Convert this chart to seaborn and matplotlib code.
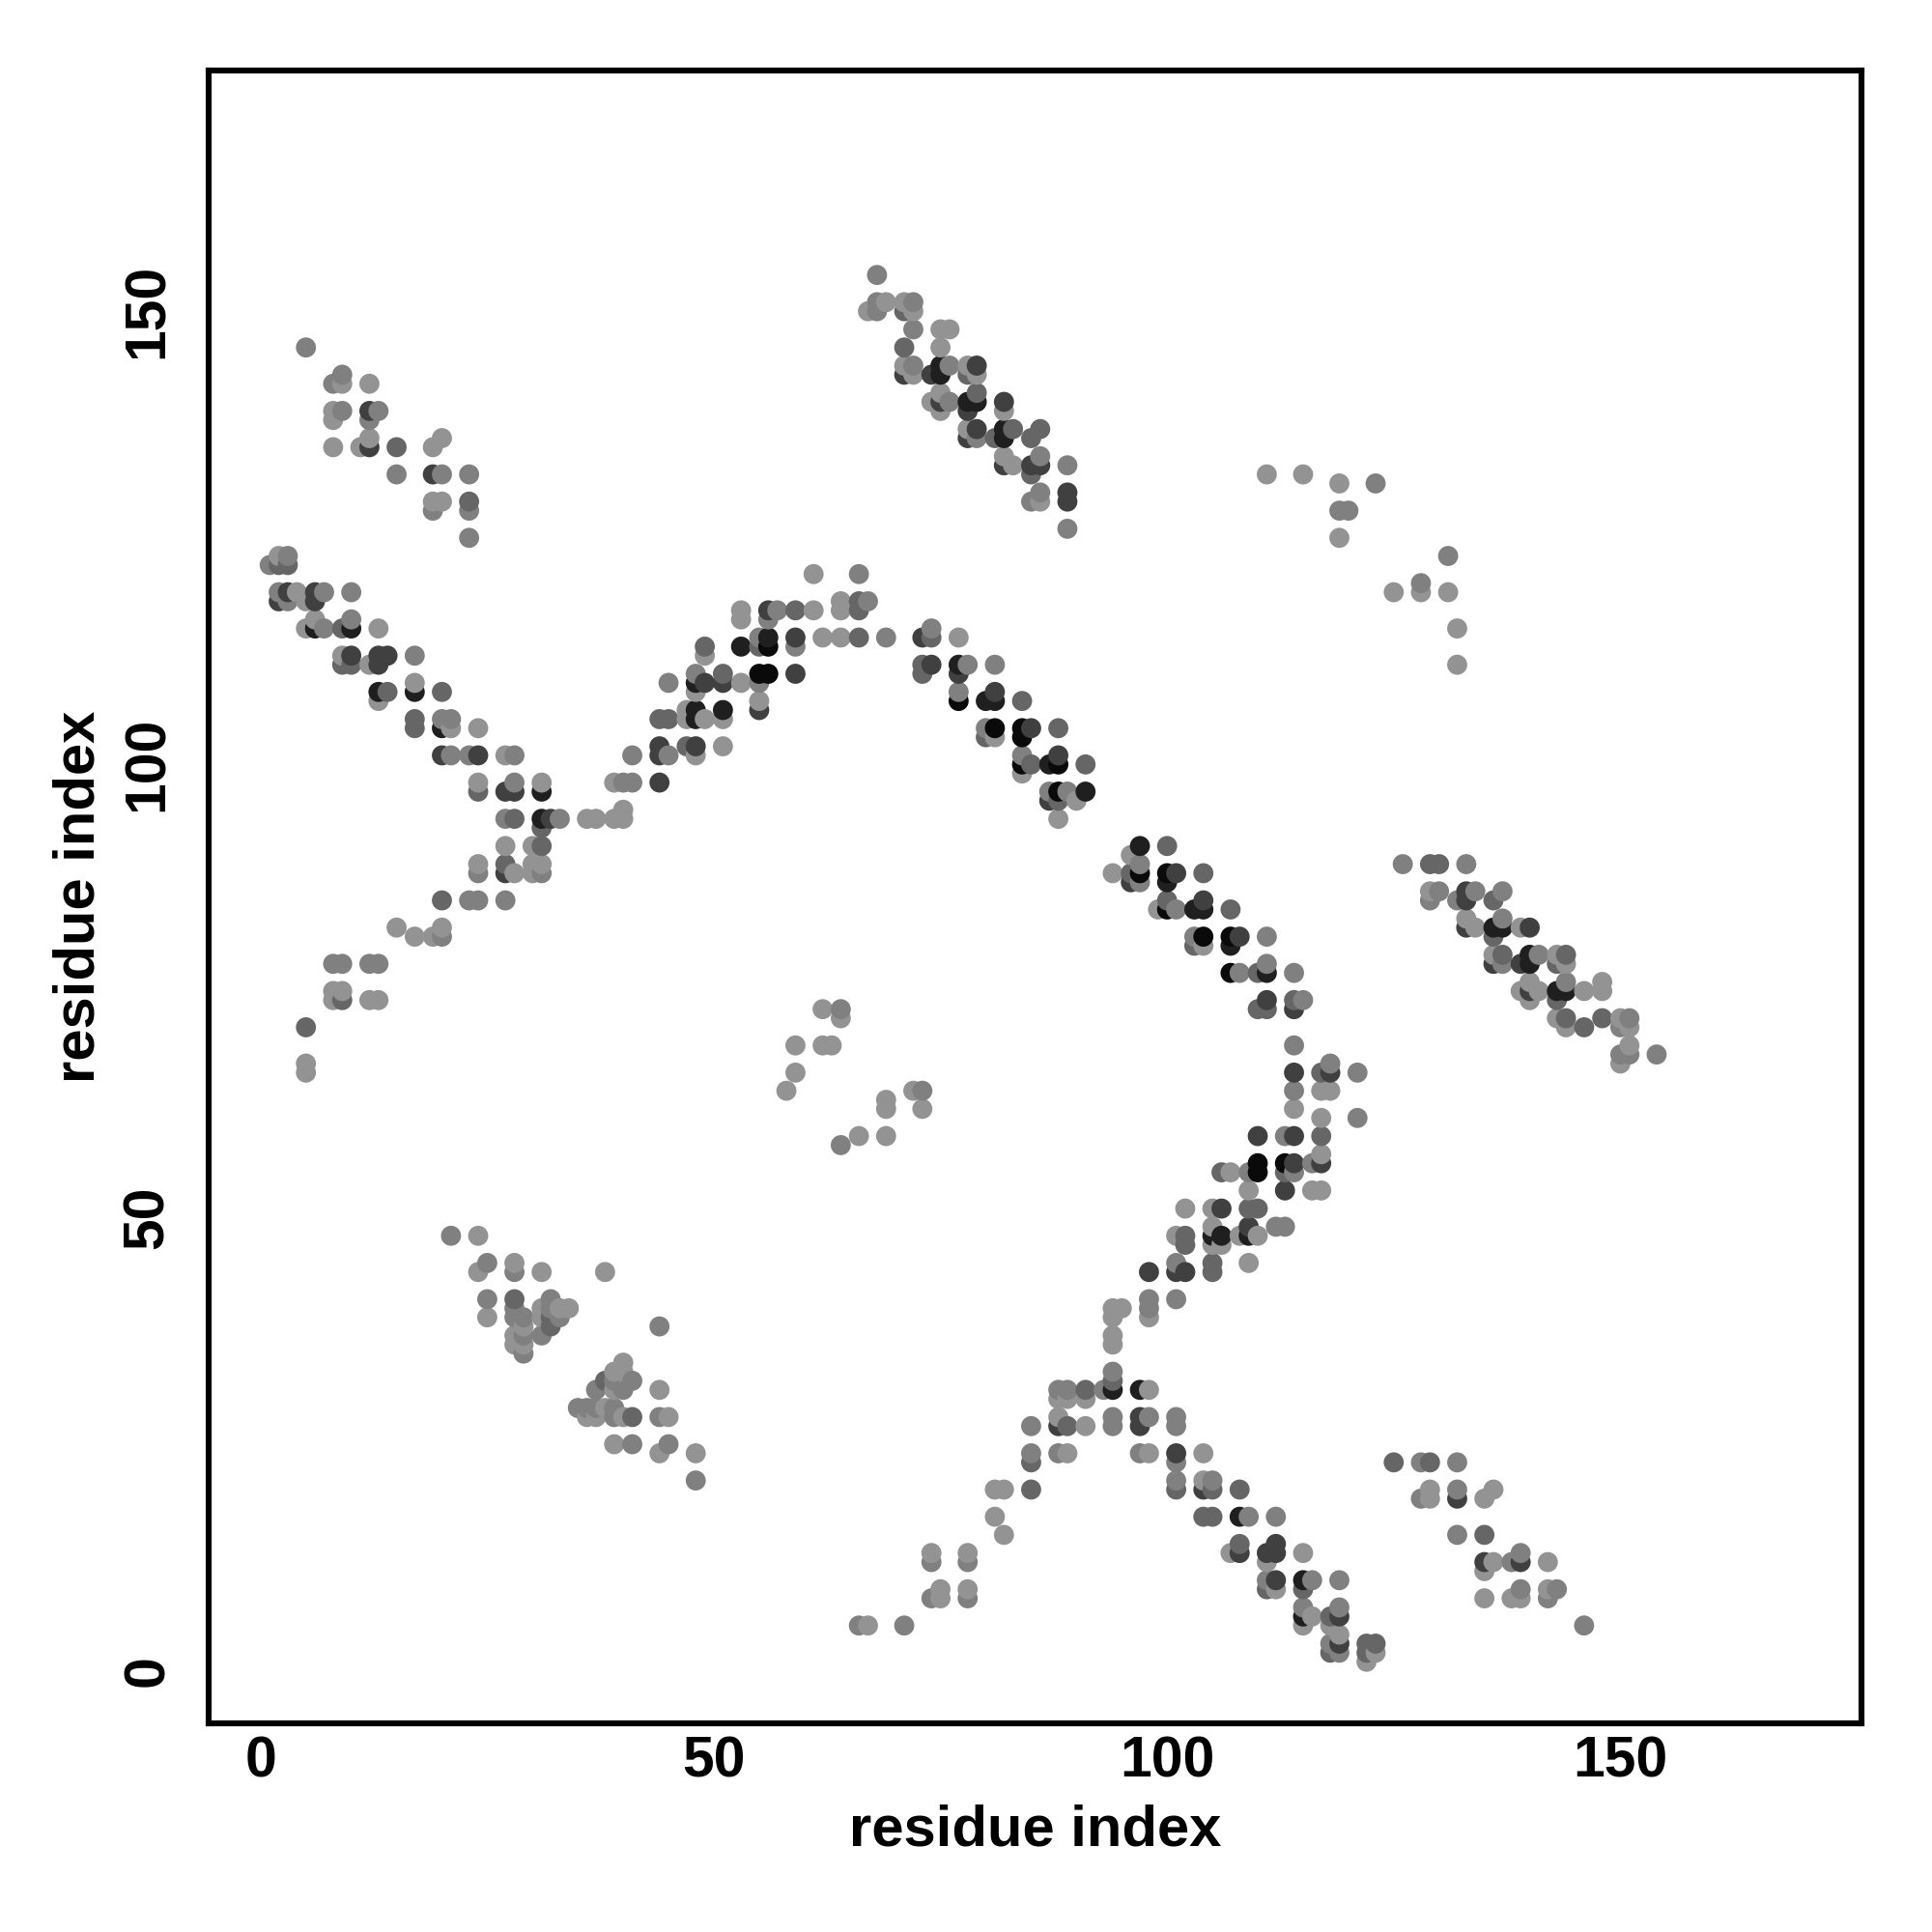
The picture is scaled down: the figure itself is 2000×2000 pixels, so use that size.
import pandas as pd
import matplotlib.pyplot as plt
import seaborn as sns

# contact points (residue i, residue j) grouped by how dark they are
light = [
    (9,142),(12,142),(8,139),(8,138),(8,135),(11,135),(12,136),(19,135),(20,136),(19,129),(20,129),
    (2,123),(4,119),(5,118),(5,115),(6,116),(13,115),(9,112),(12,111),(13,107),(17,109),(21,104),(24,104),
    (27,101),(24,98),(31,98),(39,98),
    (36,94),(37,94),(39,94),(40,94),(40,95),(27,91),(30,91),(24,89),(28,88),(30,89),(31,89),(30,88),
    (15,82),(17,81),(19,81),(20,82),(8,75),(9,75),(8,74),(12,74),(13,74),(5,67),(5,66),
    (61,121),(64,118),(53,117),(61,117),(64,117),(53,116),(62,114),(64,114),(77,114),(49,112),(53,109),
    (48,108),(55,107),(47,106),(47,105),(49,105),(51,105),(51,102),(48,101),
    (69,151),(67,150),(71,151),(72,150),(75,148),(76,148),(75,146),(71,144),(72,143),(78,144),(79,143),
    (75,141),(74,140),(75,139),(82,139),(78,137),(82,134),(83,133),(86,129),
    (81,103),(84,99),(90,96),(88,94),(96,90),(94,88),(99,84),(104,80),
    (117,64),(118,64),(114,62),(117,61),(117,57),(107,55),(109,53),(116,53),(117,53),(102,51),(105,51),
    (105,49),(101,48),(108,48),(110,48),(105,47),(106,47),(109,45),(98,39),
    (94,40),(95,40),(94,39),(94,37),(94,36),(88,30),(89,30),(91,30),(98,31),(88,28),(91,27),(89,24),(98,24),
    (104,24),(104,21),(82,20),(81,20),(81,17),(82,15),(107,13),(111,12),(115,13),(112,9),(116,6),(115,5),(118,5),(119,4),
    (122,1),(123,2),
    (74,13),(78,13),(75,9),(75,8),(78,9),(67,5),
    (24,48),(24,44),(28,45),(31,44),(38,44),(25,39),(29,38),(28,37),(28,36),(29,36),(31,40),(33,40),(34,40),
    (31,39),(40,34),(39,33),(40,33),(39,31),(44,31),(38,29),(36,28),(37,28),(40,28),(45,28),(39,25),(44,24),(48,24),
    (129,86),(133,83),(134,82),(139,82),(136,79),(143,79),(144,78),(140,76),(139,75),(141,75),(140,74),
    (146,75),(148,76),(148,75),(143,72),(144,71),(150,72),(151,71),(151,69),(150,67),
    (129,20),(129,19),(135,19),(136,20),(136,12),(135,11),(142,12),(135,8),(138,8),(139,8),(142,9),
    (58,64),(59,66),(59,69),(62,69),(63,69),(62,73),(64,72),(66,59),(69,59),(69,63),(69,62),(72,64),(73,62),
    (111,132),(115,132),(119,131),(119,125),(125,119),(128,119),(131,119),(132,115),(132,111),
]
mid = [
    (5,146),(9,143),(8,142),(9,139),(13,139),(12,138),(15,132),(20,132),(23,132),(23,128),(23,125),(19,128),
    (1,122),(3,123),(2,119),(3,118),(7,119),(10,119),(7,115),(10,116),(17,112),(20,105),(21,105),(21,101),
    (23,101),(28,101),(41,101),(28,98),(40,98),(41,98),
    (27,94),(33,94),(31,88),(23,85),(24,85),(27,85),(20,81),(24,88),(8,78),(9,78),(12,78),(13,78),
    (66,121),(67,118),(57,117),(56,116),(55,114),(69,114),(74,115),(59,113),(48,110),(45,109),(55,109),(45,101),(78,111),
    (68,154),(68,151),(68,150),(72,151),(72,148),(72,144),(76,144),(76,140),(79,136),(86,134),(89,133),(86,130),(85,129),(89,126),
    (81,111),(84,101),(80,104),(87,97),(89,97),(77,108),
    (97,89),(97,87),(101,84),(103,81),(111,81),(108,77),(111,78),(114,77),(115,74),(114,69),(118,67),
    (121,66),(114,64),(121,61),(113,59),(116,56),(109,55),(112,49),(113,49),(114,55),(101,45),(98,41),(101,41),(98,40),
    (94,33),(93,31),(88,31),(89,31),(85,27),(94,28),(94,27),(98,28),(101,28),(101,27),(85,24),(88,24),(97,24),(101,23),
    (101,21),(105,21),(109,17),(112,17),(111,10),(116,10),(119,10),(115,7),(119,7),(118,3),(119,2),
    (74,12),(78,12),(74,8),(78,8),(66,5),(71,5),
    (21,48),(25,45),(28,44),(25,41),(28,40),(28,39),(29,39),(29,37),(29,35),(32,41),(32,40),(33,39),(31,37),(44,38),
    (39,32),(41,32),(37,31),(40,31),(35,29),(36,29),(37,29),(39,29),(39,28),(44,28),(41,25),(45,25),(48,21),
    (126,89),(133,89),(130,86),(129,85),(132,85),(134,86),(137,86),(137,83),(137,78),(141,79),
    (144,76),(151,72),(150,71),(150,68),(151,68),(154,68),
    (128,23),(132,23),(128,19),(132,20),(132,15),(138,12),(139,13),(139,9),(143,9),(142,8),(146,5),
    (64,73),(64,58),(73,64),(123,131),(119,128),(120,128),(131,123),(128,120),
]
mid_dark = [
    (15,135),(23,129),(2,122),(3,122),(9,115),(9,111),(10,111),(14,108),(20,108),(17,105),(17,104),(24,97),
    (28,94),(31,93),(31,91),(27,89),(20,85),(9,74),(5,71),
    (66,118),(59,117),(66,117),(66,114),(74,114),(55,113),(49,113),(73,111),(73,110),(51,110),(44,105),(45,105),(47,102),
    (71,150),(71,146),(78,143),(79,141),(81,136),(83,137),(85,136),(86,137),(85,132),
    (84,107),(80,103),(88,104),(85,100),(91,100),(88,96),
    (100,91),(96,88),(100,85),(104,88),(107,84),(103,80),(110,73),(111,73),(114,74),(110,77),(117,66),
    (117,59),(113,55),(106,55),(109,51),(110,51),(102,48),(102,47),(105,45),(105,44),
    (94,32),(91,31),(89,27),(85,23),(85,20),(101,20),(105,20),(108,20),(104,17),(105,17),(108,14),(111,9),(118,6),
    (122,3),(123,3),(122,2),(118,2),(115,9),
    (28,41),(32,39),(32,38),(38,32),(41,28),
    (129,89),(130,89),(136,85),(136,81),(137,79),(143,78),(144,72),(146,71),(148,72),(143,74),(144,79),
    (125,23),(129,23),(135,15),
]
dark = [
    (12,139),(12,135),(19,132),(3,119),(6,119),(2,118),(6,118),(10,112),(13,112),(14,112),(13,111),(20,101),(24,101),
    (27,97),(28,97),(44,98),(32,94),(27,88),
    (56,117),(59,114),(73,114),(74,111),(77,110),(59,110),(49,109),(51,109),(55,106),(44,102),(48,102),(44,101),
    (71,143),(74,143),(79,144),(75,140),(78,139),(79,137),(78,136),(82,140),(82,133),(85,133),(86,133),(89,130),(89,129),
    (81,108),(85,104),(88,101),(87,96),
    (96,87),(101,88),(104,85),(108,81),(111,74),(114,73),(114,66),(118,66),
    (110,59),(114,59),(114,56),(117,56),(113,53),(106,51),(109,49),(98,44),(101,44),(102,44),
    (88,27),(97,28),(97,27),(101,24),(104,20),(112,14),(111,13),(112,13),(108,13),(112,10),(119,6),(119,3),
    (133,86),(133,85),(133,82),(140,82),(136,78),(139,78),(140,75),
    (132,19),(135,12),(139,12),
]
black = [
    (6,115),(10,115),(13,108),(17,108),(20,104),(31,97),(31,94),
    (56,114),(53,113),(77,111),(48,109),(48,106),(51,106),(48,105),
    (75,144),(75,143),(78,140),(79,140),(82,137),(82,136),
    (80,107),(81,107),(87,100),(91,97),
    (97,91),(100,87),(103,84),(104,84),(107,80),(111,77),
    (105,48),(106,48),(109,48),(94,31),(97,31),(108,17),(115,10),(115,6),
    (136,82),(137,82),(140,79),(140,78),(143,75),(144,75),
]
blackest = [
    (56,113),(55,110),(56,110),(77,107),
    (81,104),(84,104),(84,103),(84,100),(88,100),(88,97),
    (97,88),(100,88),(100,84),(104,81),(107,81),(107,77),
    (110,56),(113,56),(110,55),
]

axis_ticks = [0, 50, 100, 150]
level_colors = {
    "light": "#939393",
    "mid": "#808080",
    "mid_dark": "#666666",
    "dark": "#404040",
    "black": "#1f1f1f",
    "blackest": "#0a0a0a",
}

groups = [("light", light), ("mid", mid), ("mid_dark", mid_dark),
          ("dark", dark), ("black", black), ("blackest", blackest)]
rows = []
for level, pts in groups:
    for i, j in pts:
        rows.append({"i": i, "j": j, "level": level})
df = pd.DataFrame(rows).drop_duplicates(["i", "j"]).sort_values(["i", "j"])

sns.set_style("white")
plt.rcParams["font.family"] = ["Liberation Sans", "DejaVu Sans"]
plt.rcParams["font.weight"] = "bold"
plt.rcParams["text.color"] = "black"
plt.rcParams["axes.labelcolor"] = "black"
plt.rcParams["xtick.labelcolor"] = "black"
plt.rcParams["ytick.labelcolor"] = "black"

fig = plt.figure(figsize=(10, 10), dpi=200)
ax = fig.add_axes([0.1082, 0.1082, 0.8553, 0.8555])

sns.scatterplot(data=df, x="i", y="j", hue="level", palette=level_colors,
                s=56, linewidth=0, legend=False, ax=ax)

ax.set_xlim(-5.69, 176.6)
ax.set_ylim(-5.75, 176.6)
ax.set_xticks(axis_ticks)
ax.set_yticks(axis_ticks)

for side in ax.spines.values():
    side.set_linewidth(2.2)
    side.set_color("black")

ax.tick_params(axis="x", length=3.2, width=1, color="black", pad=1.5, labelsize=21.2)
ax.tick_params(axis="y", length=3.2, width=1, color="black", pad=9.5, labelsize=21.2)
for lab in ax.get_yticklabels():
    lab.set_rotation(90)
    lab.set_va("center")

ax.set_xlabel("residue index", fontsize=21.5, fontweight="bold")
ax.set_ylabel("residue index", fontsize=21.5, fontweight="bold")
ax.xaxis.set_label_coords(0.5, -0.0488)
ax.yaxis.set_label_coords(-0.0625, 0.5)

fig.savefig("out.png", dpi=200)
